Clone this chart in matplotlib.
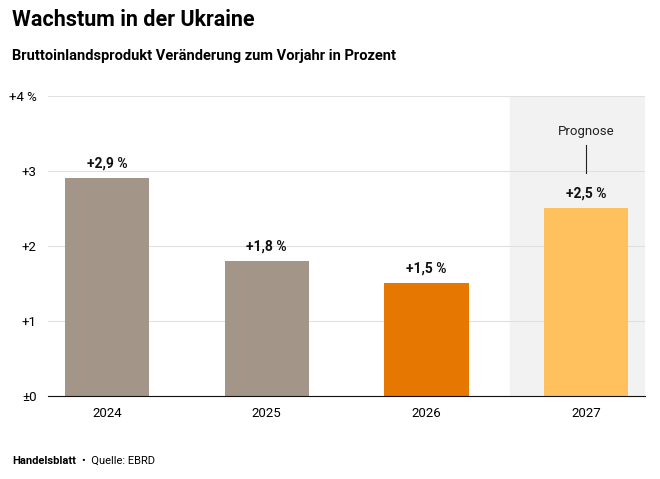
import matplotlib
matplotlib.use("Agg")
import matplotlib.pyplot as plt

years = ["2024", "2025", "2026", "2027"]
values = [2.9, 1.8, 1.5, 2.5]
labels = ["+2,9 %", "+1,8 %", "+1,5 %", "+2,5 %"]
colors = ["#a39689", "#a39689", "#e67700", "#ffc15e"]
yticks = [0, 1, 2, 3, 4]
ytick_labels = ["±0", "+1", "+2", "+3", "+4 %"]

plt.rcParams['font.family'] = ['Roboto', 'DejaVu Sans']
fig = plt.figure(figsize=(6.6, 4.79), dpi=100)
ax = fig.add_axes([0.0727, 0.1733, 0.905, 0.6263])
x = list(range(len(years)))
ax.axvspan(2.52, 3.37, color="#f2f2f2", zorder=0)
ax.bar(x, values, width=0.527, color=colors, zorder=2)
for xi, v, l in zip(x, values, labels):
    ax.text(xi, v + 0.1, l, ha="center", va="bottom", fontsize=10, fontweight="bold", color="#111")
ax.text(3, 3.53, "Prognose", ha="center", va="center", fontsize=9.5, color="#222")
ax.plot([3, 3], [2.97, 3.35], color="#222", lw=0.8)
ax.set_xlim(-0.37, 3.37)
ax.set_ylim(0, 4)
ax.set_xticks(x)
ax.set_xticklabels(years, fontsize=9.5)
ax.set_yticks(yticks)
ax.set_yticklabels(ytick_labels, fontsize=9.5)
ax.tick_params(axis="y", length=0, pad=8)
ax.tick_params(axis="x", length=0, pad=8)
ax.grid(axis="y", color="#e0e0e0", lw=0.8, zorder=1)
ax.set_axisbelow(True)
for s in ["top", "right", "left"]:
    ax.spines[s].set_visible(False)
ax.spines["bottom"].set_color("#111")
ax.spines["bottom"].set_zorder(3)
fig.text(12/660, 1-20/479, "Wachstum in der Ukraine", fontsize=15.5, fontweight="bold", va="center")
fig.text(12/660, 1-56/479, "Bruttoinlandsprodukt Veränderung zum Vorjahr in Prozent", fontsize=10.5, fontweight="bold", va="center")
fig.text(12/660, 1-461/479, "Handelsblatt", fontsize=8, fontweight="bold", va="center")
fig.text(82/660, 1-461/479, "•  Quelle: EBRD", fontsize=8, va="center")
fig.savefig("out.png", dpi=100)
